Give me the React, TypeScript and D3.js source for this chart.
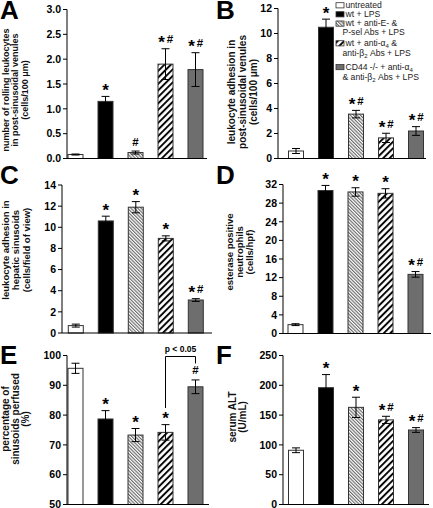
import React from "react";
import * as d3 from "d3";

const groups = ["untreated", "wt + LPS", "wt + anti-E- & P-sel Abs + LPS", "wt + anti-α4 & anti-β2 Abs + LPS", "CD44 -/- + anti-α4 & anti-β2 Abs + LPS"];
const groupFills = ["url(#fWhite)", "#000000", "url(#hatchFine)", "url(#hatchBold)", "#6e6e6e"];

const rollingMean = [0.08, 1.15, 0.12, 1.9, 1.79];
const rollingErr = [0.01, 0.1, 0.03, 0.31, 0.34];
const rollingMarks = ["", "*", "#", "*#", "*#"];
const rollingTicks = [0, 0.5, 1, 1.5, 2, 2.5, 3];

const venuleAdhMean = [0.6, 10.5, 3.55, 1.65, 2.2];
const venuleAdhErr = [0.2, 0.65, 0.3, 0.37, 0.35];
const venuleAdhMarks = ["", "*", "*#", "*#", "*#"];
const venuleAdhTicks = [0, 2, 4, 6, 8, 10, 12];

const sinusoidAdhMean = [0.7, 10.6, 11.9, 8.95, 3.12];
const sinusoidAdhErr = [0.14, 0.45, 0.53, 0.24, 0.13];
const sinusoidAdhMarks = ["", "*", "*", "*", "*#"];
const sinusoidAdhTicks = [0, 2, 4, 6, 8, 10, 12, 14];

const neutrophilMean = [1.9, 30.7, 30.4, 30.1, 12.7];
const neutrophilErr = [0.2, 1.1, 0.9, 1.0, 0.6];
const neutrophilMarks = ["", "*", "*", "*", "*#"];
const neutrophilTicks = [0, 4, 8, 12, 16, 20, 24, 28, 32];

const perfusedMean = [95.7, 78.7, 73.3, 74.2, 89.5];
const perfusedErr = [1.7, 2.8, 2.2, 2.6, 2.3];
const perfusedMarks = ["", "*", "*", "*", "#"];
const perfusedTicks = [50, 60, 70, 80, 90, 100];

const altMean = [91, 196, 163, 142, 125];
const altErr = [4, 22, 17, 6, 4];
const altMarks = ["", "*", "*", "*#", "*#"];
const altTicks = [0, 50, 100, 150, 200, 250];

const FONT = "'Liberation Sans', Arial, Helvetica, sans-serif";

type Panel = {
  letter: string;
  lx: number; ly: number;
  mean: number[]; err: number[]; marks: string[]; ticks: number[];
  fmt: (v: number) => string;
  axisX: number; xEnd: number; r0: number;
  yTop: number; yBot: number;
  title: string[]; titleX: number[]; titleY: number; titleSize: number;
};

const panels: Panel[] = [
  { letter: "A", lx: 0, ly: 19, mean: rollingMean, err: rollingErr, marks: rollingMarks, ticks: rollingTicks, fmt: d3.format(".1f"),
    axisX: 67, xEnd: 207, r0: 68, yTop: 9.5, yBot: 158.5,
    title: ["number of rolling leukocytes", "in post-sinusoidal venules", "(cells/100 μm)"], titleX: [8.5, 18, 28], titleY: 90, titleSize: 9 },
  { letter: "B", lx: 216, ly: 19, mean: venuleAdhMean, err: venuleAdhErr, marks: venuleAdhMarks, ticks: venuleAdhTicks, fmt: d3.format("d"),
    axisX: 278, xEnd: 426, r0: 288.5, yTop: 8.5, yBot: 158.5,
    title: ["leukocyte adhesion in", "post-sinusoidal venules", "(cells/100 μm)"], titleX: [235, 246, 257], titleY: 92, titleSize: 10 },
  { letter: "C", lx: 0, ly: 184, mean: sinusoidAdhMean, err: sinusoidAdhErr, marks: sinusoidAdhMarks, ticks: sinusoidAdhTicks, fmt: d3.format("d"),
    axisX: 62, xEnd: 212, r0: 68.3, yTop: 185, yBot: 333,
    title: ["leukocyte adhesion in", "hepatic sinusoids", "(cells/field of view)"], titleX: [9, 19, 29.5], titleY: 250, titleSize: 9.5 },
  { letter: "D", lx: 216, ly: 184, mean: neutrophilMean, err: neutrophilErr, marks: neutrophilMarks, ticks: neutrophilTicks, fmt: d3.format("d"),
    axisX: 283, xEnd: 431, r0: 288, yTop: 184.5, yBot: 333.5,
    title: ["esterase positive", "neutrophils", "(cells/hpf)"], titleX: [232.5, 242.5, 252.5], titleY: 252, titleSize: 9.5 },
  { letter: "E", lx: 0, ly: 364, mean: perfusedMean, err: perfusedErr, marks: perfusedMarks, ticks: perfusedTicks, fmt: d3.format("d"),
    axisX: 67, xEnd: 209, r0: 68, yTop: 355.5, yBot: 504.5,
    title: ["percentage of", "sinusoids perfused", "(%)"], titleX: [8.5, 18.5, 28.5], titleY: 419, titleSize: 10 },
  { letter: "F", lx: 216, ly: 364, mean: altMean, err: altErr, marks: altMarks, ticks: altTicks, fmt: d3.format("d"),
    axisX: 283, xEnd: 429, r0: 288.5, yTop: 355.5, yBot: 504.5,
    title: ["serum ALT", "(U/mL)"], titleX: [236, 246], titleY: 417, titleSize: 10 },
];

function Marks({ label, cx, top }: { label: string; cx: number; top: number }) {
  if (!label) return null;
  const star = label.includes("*");
  const hash = label.includes("#");
  const both = star && hash;
  return (
    <g fontFamily={FONT} fontWeight="bold" fill="#000" textAnchor="middle">
      {star && <text x={both ? cx - 4 : cx} y={top - 0.5} fontSize={17}>*</text>}
      {hash && <text x={both ? cx + 4.5 : cx} y={top - 5.5} fontSize={11.5}>#</text>}
    </g>
  );
}

function PanelView({ p }: { p: Panel }) {
  const x = d3.scaleBand<string>().domain(groups).range([p.r0, p.r0 + 135]).paddingInner(0.5).paddingOuter(0);
  const y = d3.scaleLinear().domain([p.ticks[0], p.ticks[p.ticks.length - 1]]).range([p.yBot, p.yTop]);
  const bw = x.bandwidth();
  return (
    <g>
      <text x={p.lx} y={p.ly} fontFamily={FONT} fontWeight="bold" fontSize={26}>{p.letter}</text>
      {p.title.map((t, i) => (
        <text key={i} transform={`translate(${p.titleX[i]},${p.titleY}) rotate(-90)`} textAnchor="middle"
          fontFamily={FONT} fontWeight="bold" fontSize={p.titleSize} fill="#111">{t}</text>
      ))}
      {groups.map((g, i) => {
        const x0 = x(g)!;
        const cx = x0 + bw / 2;
        const yv = y(p.mean[i]);
        const yHi = y(p.mean[i] + p.err[i]);
        const yLo = y(p.mean[i] - p.err[i]);
        return (
          <g key={g}>
            <rect x={x0} y={yv} width={bw} height={y(p.ticks[0]) - yv} fill={groupFills[i]} stroke="#333" strokeWidth={1} />
            <line x1={cx} x2={cx} y1={yHi} y2={yLo} stroke="#000" strokeWidth={1} />
            <line x1={cx - 4} x2={cx + 4} y1={yHi} y2={yHi} stroke="#000" strokeWidth={1} />
            <line x1={cx - 4} x2={cx + 4} y1={yLo} y2={yLo} stroke="#000" strokeWidth={1} />
            <Marks label={p.marks[i]} cx={cx} top={yHi} />
          </g>
        );
      })}
      <line x1={p.axisX} x2={p.axisX} y1={p.yTop} y2={p.yBot} stroke="#000" strokeWidth={1} />
      <line x1={p.axisX} x2={p.xEnd} y1={p.yBot} y2={p.yBot} stroke="#000" strokeWidth={1} />
      {p.ticks.map((t) => (
        <g key={t}>
          <line x1={p.axisX - 4} x2={p.axisX} y1={y(t)} y2={y(t)} stroke="#000" strokeWidth={1} />
          <text x={p.axisX - 6} y={y(t)} dy="0.36em" textAnchor="end" fontFamily={FONT} fontWeight="bold" fontSize={10.5}>{p.fmt(t)}</text>
        </g>
      ))}
    </g>
  );
}

const legendRows = [
  { lines: [[{ t: "untreated" }]], boxY: 2.7, baselines: [8] },
  { lines: [[{ t: "wt + LPS" }]], boxY: 11.7, baselines: [17] },
  { lines: [[{ t: "wt + anti-E- &" }], [{ t: "P-sel Abs + LPS" }]], boxY: 21, baselines: [26.3, 35.3] },
  { lines: [[{ t: "wt + anti-α" }, { t: "4", sub: true }, { t: " &" }], [{ t: "anti-β" }, { t: "2", sub: true }, { t: " Abs + LPS" }]], boxY: 40.7, baselines: [46.3, 55.8] },
  { lines: [[{ t: "CD44 -/- + anti-α" }, { t: "4", sub: true }], [{ t: "& anti-β" }, { t: "2", sub: true }, { t: " Abs + LPS" }]], boxY: 64.5, baselines: [70.3, 79.8] },
];

function Legend() {
  return (
    <g fontFamily={FONT} fontSize={8.6} fill="#222">
      {legendRows.map((r, i) => (
        <g key={i}>
          <rect x={336} y={r.boxY} width={8} height={5.2} fill={groupFills[i]} stroke="#333" strokeWidth={0.8} />
          {r.lines.map((ln, j) => (
            <text key={j} x={j === 0 ? 345.5 : 342.5} y={r.baselines[j]}>
              {ln.map((s: any, k: number) =>
                s.sub ? (
                  <tspan key={k} fontSize={6} dy={2}>{s.t}</tspan>
                ) : (
                  <tspan key={k} dy={k > 0 && (ln[k - 1] as any).sub ? -2 : 0}>{s.t}</tspan>
                )
              )}
            </text>
          ))}
        </g>
      ))}
    </g>
  );
}

function Bracket() {
  const p = panels[4];
  const x = d3.scaleBand<string>().domain(groups).range([p.r0, p.r0 + 135]).paddingInner(0.5).paddingOuter(0);
  const cx3 = x(groups[3])! + x.bandwidth() / 2;
  const cx4 = x(groups[4])! + x.bandwidth() / 2;
  const yTopLine = 356.5;
  return (
    <g>
      <path d={`M${cx3},408 V${yTopLine} H${cx4} V363.5`} fill="none" stroke="#000" strokeWidth={1} />
      <text x={(cx3 + cx4) / 2} y={352} textAnchor="middle" fontFamily={FONT} fontWeight="bold" fontSize={8.5}>p &lt; 0.05</text>
    </g>
  );
}

export default function App() {
  return (
    <svg width={433} height={508} style={{ position: "absolute", left: 0, top: 0, background: "#fff" }}>
      <defs>
        <pattern id="fWhite" width={4} height={4} patternUnits="userSpaceOnUse">
          <rect width={4} height={4} fill="#fff" />
        </pattern>
        <pattern id="hatchFine" width={2.4} height={2.4} patternUnits="userSpaceOnUse" patternTransform="rotate(-45)">
          <rect width={2.4} height={2.4} fill="#fff" />
          <line x1={0.6} y1={0} x2={0.6} y2={2.4} stroke="#555" strokeWidth={1} />
        </pattern>
        <pattern id="hatchBold" width={4.6} height={4.6} patternUnits="userSpaceOnUse" patternTransform="rotate(45)">
          <rect width={4.6} height={4.6} fill="#fff" />
          <line x1={1} y1={0} x2={1} y2={4.6} stroke="#000" strokeWidth={1.9} />
        </pattern>
      </defs>
      {panels.map((p) => <PanelView key={p.letter} p={p} />)}
      <Legend />
      <Bracket />
    </svg>
  );
}
